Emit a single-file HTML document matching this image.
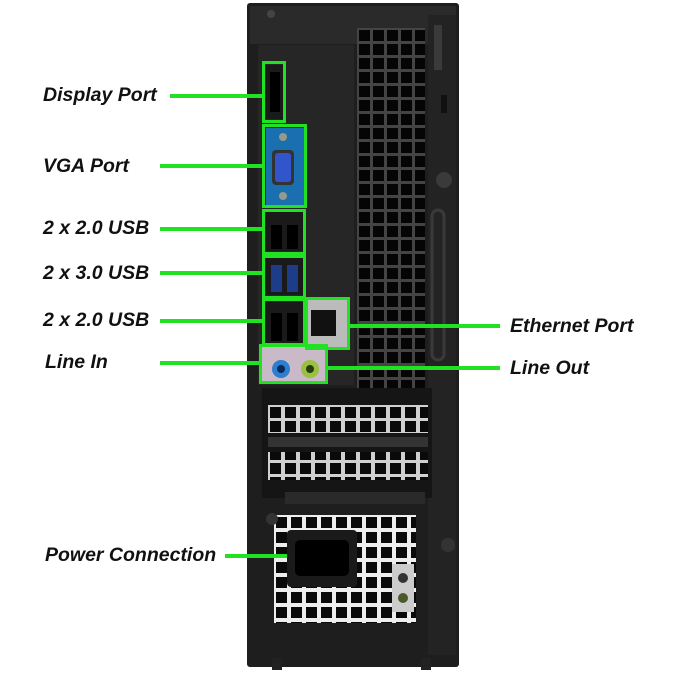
<!DOCTYPE html>
<html><head><meta charset="utf-8"><style>
body{margin:0;width:680px;height:680px;background:#fff;position:relative;overflow:hidden;font-family:"Liberation Sans",sans-serif}
.a{position:absolute}
.t{position:absolute;font-weight:bold;font-style:italic;font-size:19.5px;color:#111;line-height:20px;white-space:nowrap}
.g{position:absolute;background:#22e022;height:4px}
.b{position:absolute;border:3px solid #22e022;box-sizing:border-box}
</style></head><body>
<svg class="a" style="left:0;top:0" width="680" height="680">
<defs>
<pattern id="vent" x="357" y="28" width="14" height="14" patternUnits="userSpaceOnUse"><rect width="14" height="14" fill="#444"/><rect x="2" y="2" width="11" height="11" fill="#050505"/></pattern>
<pattern id="pci" x="268" y="405" width="15" height="14" patternUnits="userSpaceOnUse"><rect width="15" height="14" fill="#d0d0d0"/><rect x="2" y="2" width="11" height="11" fill="#0a0a0a"/></pattern>
<pattern id="psu" x="274" y="515" width="15" height="15" patternUnits="userSpaceOnUse"><rect width="15" height="15" fill="#eee"/><rect x="2" y="2" width="11" height="11" fill="#0a0a0a"/></pattern>
</defs>
<rect x="247" y="3" width="212" height="664" rx="3" fill="#1e1e1e"/>
<rect x="250" y="6" width="206" height="38" fill="#2a2a2a"/>
<circle cx="271" cy="14" r="4" fill="#444"/>
<rect x="258" y="45" width="96" height="340" fill="#262626"/>
<rect x="357" y="28" width="68" height="360" fill="url(#vent)"/>
<rect x="428" y="15" width="28" height="640" fill="#232323"/>
<rect x="434" y="25" width="8" height="45" fill="#3a3a3a"/>
<rect x="441" y="95" width="6" height="18" fill="#111"/>
<circle cx="444" cy="180" r="8" fill="#3a3a3a"/>
<rect x="432" y="210" width="12" height="150" rx="6" fill="none" stroke="#3a3a3a" stroke-width="3"/>
<rect x="262" y="388" width="170" height="110" fill="#151515"/>
<rect x="268" y="405" width="160" height="28" fill="url(#pci)"/>
<rect x="268" y="437" width="160" height="10" fill="#333"/>
<rect x="268" y="452" width="160" height="28" fill="url(#pci)"/>
<rect x="285" y="492" width="140" height="12" fill="#2a2a2a"/>
<rect x="274" y="515" width="142" height="108" fill="url(#psu)"/>
<rect x="287" y="530" width="70" height="57" rx="4" fill="#1a1a1a"/>
<rect x="295" y="540" width="54" height="36" rx="5" fill="#000"/>
<rect x="392" y="564" width="22" height="48" fill="#ccc"/>
<circle cx="403" cy="578" r="5" fill="#333"/><circle cx="403" cy="598" r="5" fill="#4a5a2a"/>
<circle cx="272" cy="519" r="6" fill="#333"/><circle cx="448" cy="545" r="7" fill="#333"/>
<rect x="272" y="658" width="10" height="12" fill="#222"/><rect x="421" y="658" width="10" height="12" fill="#222"/>
<rect x="266" y="65" width="17" height="54" fill="#1a1a1a"/><rect x="270" y="72" width="10" height="40" fill="#000"/>
<rect x="266" y="128" width="38" height="77" fill="#1a6fb0"/>
<rect x="272" y="150" width="22" height="35" rx="4" fill="#333"/><rect x="275" y="153" width="16" height="29" rx="3" fill="#3355cc"/>
<circle cx="283" cy="137" r="4" fill="#998"/><circle cx="283" cy="196" r="4" fill="#998"/>
<rect x="266" y="212" width="37" height="39" fill="#1a1a1a"/>
<rect x="271" y="225" width="11" height="24" fill="#000"/><rect x="287" y="225" width="11" height="24" fill="#000"/>
<rect x="266" y="258" width="37" height="37" fill="#1a1a1a"/>
<rect x="271" y="265" width="11" height="27" fill="#1d3d88"/><rect x="287" y="265" width="11" height="27" fill="#1d3d88"/>
<rect x="266" y="302" width="37" height="41" fill="#1a1a1a"/>
<rect x="271" y="313" width="11" height="28" fill="#000"/><rect x="287" y="313" width="11" height="28" fill="#000"/>
<rect x="308" y="300" width="39" height="47" fill="#bbb"/>
<rect x="311" y="310" width="25" height="26" fill="#111"/>
<rect x="262" y="347" width="63" height="34" fill="#c9b9c9"/>
<circle cx="281" cy="369" r="9" fill="#2b7fd0"/><circle cx="281" cy="369" r="4" fill="#0a2a55"/>
<circle cx="310" cy="369" r="9" fill="#9ac040"/><circle cx="310" cy="369" r="4" fill="#2a3a10"/>
</svg>
<div class="b" style="left:262px;top:61px;width:24px;height:62px"></div>
<div class="b" style="left:262px;top:124px;width:45px;height:84px"></div>
<div class="b" style="left:262px;top:209px;width:44px;height:46px"></div>
<div class="b" style="left:262px;top:255px;width:44px;height:44px"></div>
<div class="b" style="left:262px;top:298px;width:44px;height:48px"></div>
<div class="b" style="left:305px;top:297px;width:45px;height:53px"></div>
<div class="b" style="left:259px;top:344px;width:69px;height:40px"></div>
<div class="g" style="left:170px;top:94px;width:93px"></div>
<div class="g" style="left:160px;top:164px;width:103px"></div>
<div class="g" style="left:160px;top:227px;width:103px"></div>
<div class="g" style="left:160px;top:271px;width:103px"></div>
<div class="g" style="left:160px;top:319px;width:103px"></div>
<div class="g" style="left:160px;top:361px;width:100px"></div>
<div class="g" style="left:349px;top:324px;width:151px"></div>
<div class="g" style="left:327px;top:366px;width:173px"></div>
<div class="g" style="left:225px;top:554px;width:62px"></div>
<div class="t" style="left:43px;top:85px">Display Port</div>
<div class="t" style="left:43px;top:156px">VGA Port</div>
<div class="t" style="left:43px;top:218px">2 x 2.0 USB</div>
<div class="t" style="left:43px;top:263px">2 x 3.0 USB</div>
<div class="t" style="left:43px;top:310px">2 x 2.0 USB</div>
<div class="t" style="left:45px;top:352px">Line In</div>
<div class="t" style="left:45px;top:545px">Power Connection</div>
<div class="t" style="left:510px;top:316px">Ethernet Port</div>
<div class="t" style="left:510px;top:358px">Line Out</div>
</body></html>
